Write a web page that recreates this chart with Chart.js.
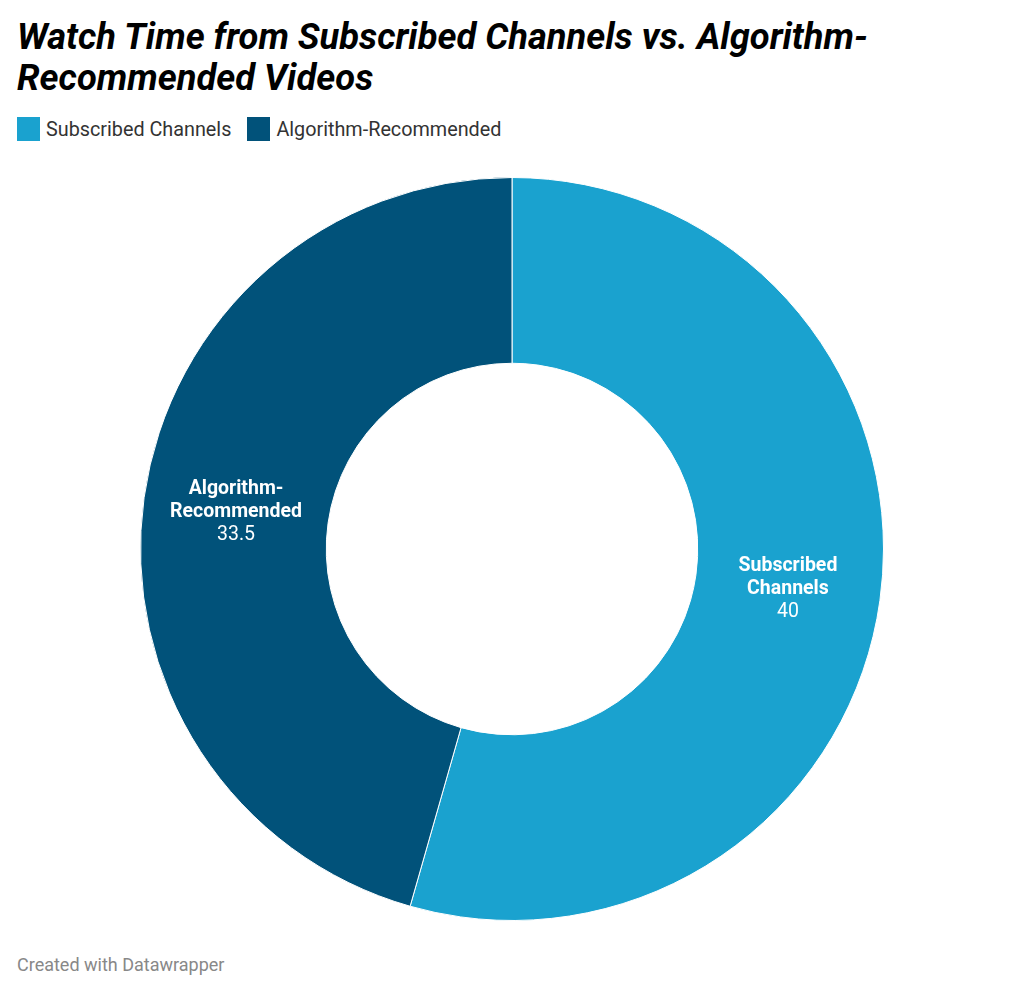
<!DOCTYPE html>
<html>
<head>
<meta charset="utf-8">
<script src="https://cdn.jsdelivr.net/npm/chart.js@4/dist/chart.umd.min.js"></script>
<style>
  body { margin: 0; background: #fff; font-family: Roboto, sans-serif; }
  #wrap { position: relative; width: 1024px; height: 992px; }
  #title { position: absolute; left: 17px; top: 16px; width: 1005px; margin: 0;
    font-size: 36.3px; line-height: 41px; font-weight: 700; font-style: italic; color: #000; }
  #legend { position: absolute; left: 17px; top: 117px; font-size: 19.8px; line-height: 26px; color: #333; white-space: nowrap; }
  .item { display: inline-block; margin-right: 16px; }
  .box { display: inline-block; width: 23px; height: 24px; vertical-align: -5px; margin-right: 6px; }
  #box { position: absolute; left: 0; top: 177px; width: 1024px; height: 744px; }
  #footer { position: absolute; left: 17px; top: 954px; font-size: 18px; color: #888; }
</style>
</head>
<body>
<div id="wrap">
  <h1 id="title">Watch Time from Subscribed Channels vs. Algorithm-<br>Recommended Videos</h1>
  <div id="legend"></div>
  <div id="box"><canvas id="chart"></canvas></div>
  <div id="footer">Created with Datawrapper</div>
</div>
<script>
// ----- DATA -----
var labels = ["Subscribed Channels", "Algorithm-Recommended"];
var labelLines = [["Subscribed", "Channels"], ["Algorithm-", "Recommended"]];
var values = [40, 33.5];
var colors = ["#1aa2cf", "#01527a"];

// legend
var legend = document.getElementById("legend");
labels.forEach(function (l, i) {
  var s = document.createElement("span");
  s.className = "item";
  s.innerHTML = '<span class="box" style="background:' + colors[i] + '"></span>' + l;
  legend.appendChild(s);
});

// labels inside the slices
var sliceLabels = {
  id: "sliceLabels",
  afterDatasetsDraw: function (chart) {
    var ctx = chart.ctx;
    var meta = chart.getDatasetMeta(0);
    ctx.save();
    ctx.fillStyle = "#fff";
    ctx.textAlign = "center";
    ctx.textBaseline = "middle";
    meta.data.forEach(function (arc, i) {
      var p = arc.tooltipPosition();
      var lines = labelLines[i];
      var lh = 23;
      var y0 = p.y - lh * lines.length / 2 + 2;
      ctx.font = "bold 19.5px Roboto";
      lines.forEach(function (t, j) {
        ctx.fillText(t, p.x, y0 + j * lh);
      });
      ctx.font = "19.5px Roboto";
      ctx.fillText(String(values[i]), p.x, y0 + lines.length * lh);
    });
    ctx.restore();
  }
};

var ctx = document.getElementById("chart").getContext("2d");
var chart = new Chart(ctx, {
  type: "doughnut",
  data: {
    labels: labels,
    datasets: [{
      data: values,
      backgroundColor: colors,
      borderColor: "#fff",
      borderWidth: 1
    }]
  },
  options: {
    responsive: true,
    maintainAspectRatio: false,
    animation: false,
    cutout: "50%",
    layout: { padding: 0 },
    plugins: {
      legend: { display: false },
      tooltip: { enabled: false }
    }
  },
  plugins: [sliceLabels]
});
</script>
</body>
</html>
